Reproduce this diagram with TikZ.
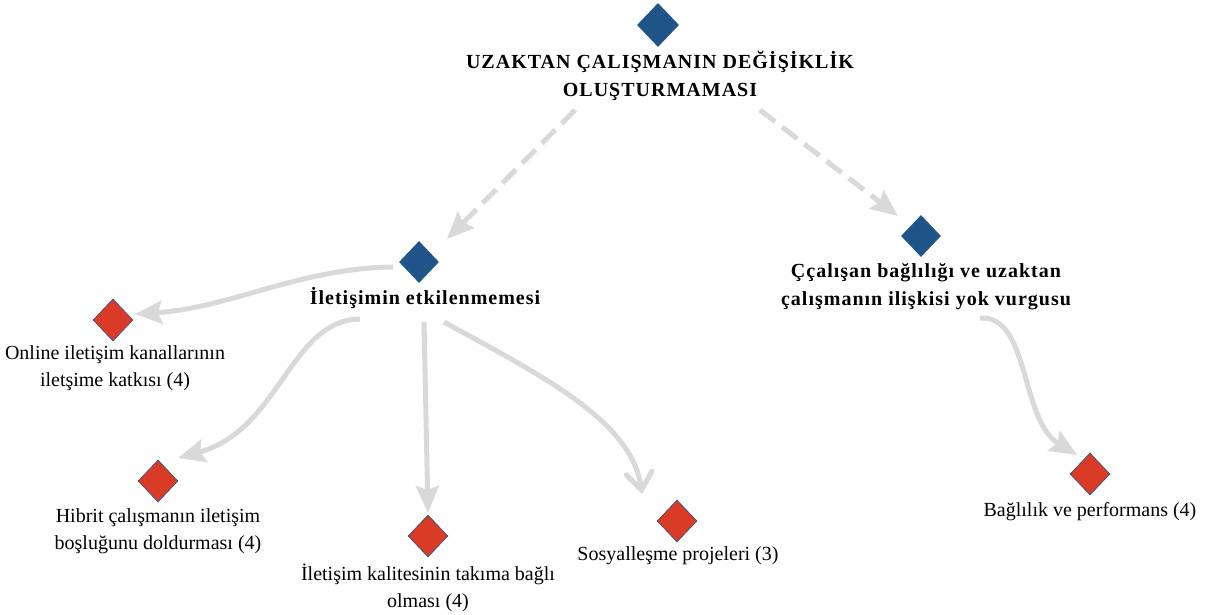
\documentclass[tikz,border=0pt]{standalone}
\usepackage{fontspec}
\setmainfont{Liberation Serif}
\newfontfamily\spacedbold[LetterSpace=5]{Liberation Serif Bold}
\usetikzlibrary{arrows.meta,shapes.geometric}
\definecolor{dblue}{HTML}{1F5589}
\definecolor{nred}{HTML}{DA3B26}
\definecolor{edgegray}{HTML}{D9D9D9}
\tikzset{
 bluedia/.style={diamond, fill=dblue, inner sep=0pt, minimum width=42pt, minimum height=44pt},
 reddia/.style={diamond, fill=nred, draw=dblue, line width=0.6pt, inner sep=0pt, minimum width=40pt, minimum height=42pt},
 boldlbl/.style={font=\fontsize{20}{28}\selectfont\spacedbold, align=center, inner sep=0pt},
 lbl/.style={font=\fontsize{20}{27}\selectfont, align=center, inner sep=0pt},
 conn/.style={draw=edgegray, line width=5pt, -{Stealth[length=27pt,width=23pt,inset=4pt]}},
 openconn/.style={draw=edgegray, line width=5pt, -{Straight Barb[length=17pt,width=26pt,line cap=round]}},
 dconn/.style={conn, dash pattern=on 19pt off 9pt},
}
\begin{document}
\begin{tikzpicture}[x=1pt,y=-1pt]
\useasboundingbox (0,0) rectangle (1210,615);
% nodes
\node[bluedia] (top) at (658,25) {};
\node[boldlbl] (toptxt) at (660,76) {UZAKTAN ÇALIŞMANIN DEĞİŞİKLİK\\OLUŞTURMAMASI};
\node[bluedia, minimum width=40pt, minimum height=42pt] (lblue) at (419,262) {};
\node[boldlbl] (ltxt) at (425,298) {İletişimin etkilenmemesi};
\node[bluedia, minimum width=40pt, minimum height=42pt] (rblue) at (921,236) {};
\node[boldlbl] (rtxt) at (926,287) {Ççalışan bağlılığı ve uzaktan\\çalışmanın ilişkisi yok vurgusu};
\node[reddia] (online) at (113,320) {};
\node[lbl] (onlinetxt) at (115,368) {Online iletişim kanallarının\\iletşime katkısı (4)};
\node[reddia] (hibrit) at (158,481) {};
\node[lbl] (hibrittxt) at (158,531) {Hibrit çalışmanın iletişim\\boşluğunu doldurması (4)};
\node[reddia] (kalite) at (428,536) {};
\node[lbl] (kalitetxt) at (428,588) {İletişim kalitesinin takıma bağlı\\olması (4)};
\node[reddia] (sosyal) at (677,521) {};
\node[lbl] (sosyaltxt) at (678,556) {Sosyalleşme projeleri (3)};
\node[reddia] (baglilik) at (1090,474) {};
\node[lbl] (bagliliktxt) at (1090,512) {Bağlılık ve performans (4)};
% connector end points
\coordinate (s1) at (575,110);
\coordinate (e1) at (447,239);
\coordinate (s2) at (760,110);
\coordinate (e2) at (898,216);
\coordinate (s3) at (393,267);
\coordinate (e3) at (135,314);
\coordinate (s4) at (360,319);
\coordinate (e4) at (178,458);
\coordinate (s5) at (424,322);
\coordinate (e5) at (428,513);
\coordinate (s6) at (444,322);
\coordinate (e6) at (642,494);
\coordinate (s7) at (980,318);
\coordinate (e7) at (1077,455);
% connectors
\draw[dconn] (s1) -- (e1);
\draw[dconn] (s2) -- (e2);
\draw[conn] (s3) .. controls (300,268) and (230,308) .. (e3);
\draw[conn] (s4) .. controls (290,320) and (280,430) .. (e4);
\draw[conn] (s5) -- (e5);
\draw[openconn] (s6) .. controls (540,375) and (632,420) .. (e6);
\draw[conn] (s7) .. controls (1030,315) and (1020,420) .. (e7);
\end{tikzpicture}
\end{document}
